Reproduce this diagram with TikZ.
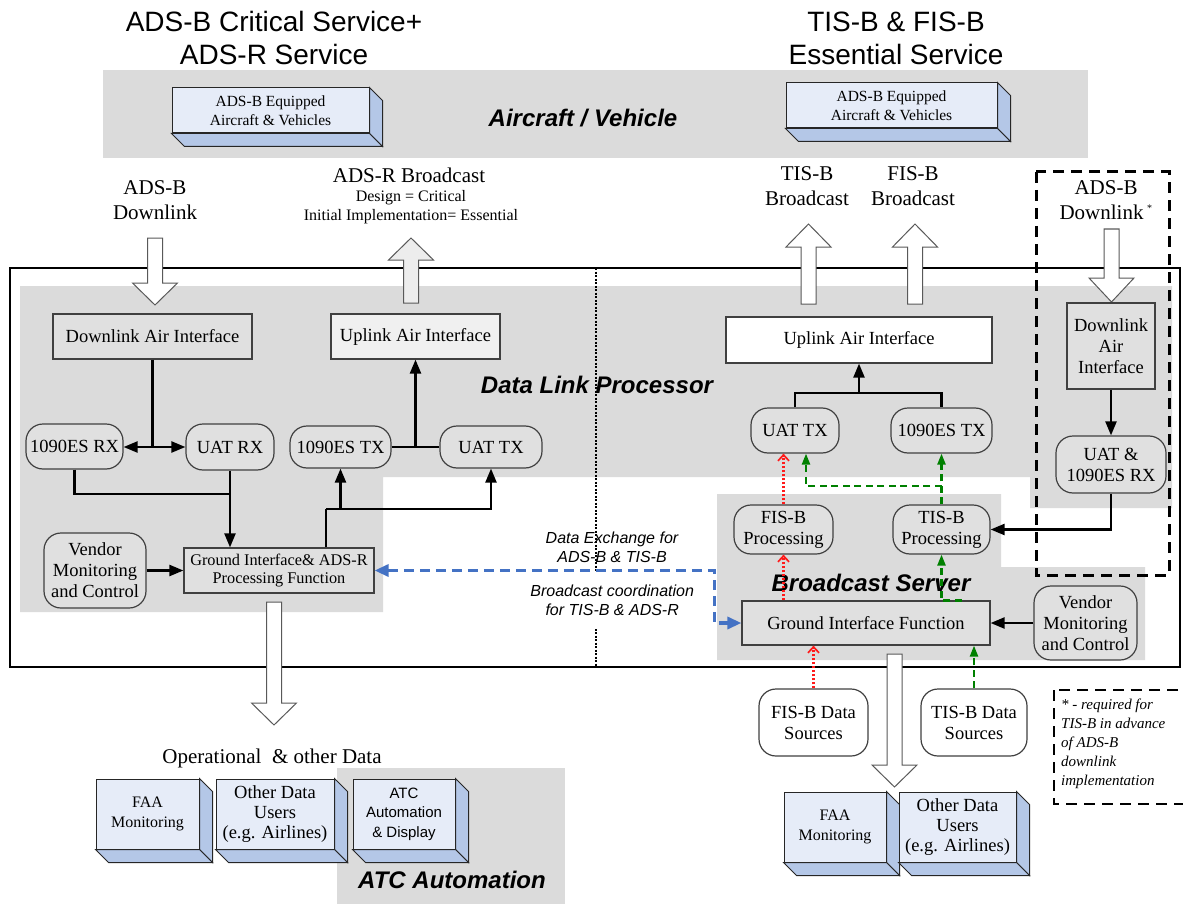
\documentclass[tikz,border=0pt]{standalone}
\usepackage{fontspec}
\setmainfont{Liberation Serif}
\newfontfamily\arialfont{Liberation Sans}
\usetikzlibrary{arrows.meta,calc}

\definecolor{bgGrey}{HTML}{DBDBDB}
\definecolor{nodeGrey}{HTML}{E0E0E0}
\definecolor{cubeFront}{HTML}{E6ECF8}
\definecolor{cubeSide}{HTML}{B4C7E7}
\definecolor{linkBlue}{HTML}{4472C4}
\definecolor{fisRed}{HTML}{FF1A1A}
\definecolor{tisGreen}{HTML}{008000}

\newcommand\fsz[2]{\fontsize{#1}{#2}\selectfont}

% depth faces of a 3-D box whose front face is node #1
\newcommand\cubedepth[2]{%
  \draw[cubeside] (#1.north east) -- ++(#2,#2) -- ($(#1.south east)+(#2,#2)$) -- (#1.south east) -- cycle;
  \draw[cubeside] (#1.south west) -- ++(#2,#2) -- ($(#1.south east)+(#2,#2)$) -- (#1.south east) -- cycle;}

% hollow block arrow: style, centre x, shaft end y, head base y, tip y
\newcommand\blockarrowpoly[5]{%
  \draw[#1] ({#2-7.5},#3) -- ({#2+7.5},#3) -- ({#2+7.5},#4) -- ({#2+22.5},#4)
    -- (#2,#5) -- ({#2-22.5},#4) -- ({#2-7.5},#4) -- cycle;}

\tikzset{
  sq/.style={draw=black!75, line width=1.2pt, fill=nodeGrey, inner sep=0pt,
             align=center, font=\fsz{18.5}{21}},
  rnd/.style={sq, rounded corners=17pt},
  cubefront/.style={draw=black!85, line width=1pt, fill=cubeFront, inner sep=0pt, align=center},
  cubeside/.style={draw=black!85, line width=1pt, fill=cubeSide},
  blockarrow/.style={draw=black!65, line width=1pt, fill=white},
  lbl/.style={inner sep=0pt, align=center, font=\fsz{21}{25}},
  region/.style={inner sep=0pt, font=\arialfont\bfseries\itshape\fsz{24}{28}},
  itlbl/.style={inner sep=0pt, align=center, font=\arialfont\itshape\fsz{16}{19}},
  plain/.style={line width=2.3pt},
  conn/.style={line width=2.3pt, -{Triangle[length=14pt,width=11pt]}},
  fisline/.style={fisRed, line width=2.4pt, dash pattern=on 2.5pt off 1.5pt,
                  -{Straight Barb[length=6pt,width=11pt,line width=1.7pt]}},
  tisline/.style={tisGreen, line width=2.3pt, dash pattern=on 7pt off 4.5pt,
                  -{Triangle[length=11pt,width=8pt]}},
  bluelink/.style={linkBlue, line width=3.3pt, dash pattern=on 10pt off 6pt,
                   {Triangle[length=14pt,width=12pt]}-{Triangle[length=14pt,width=12pt]}},
  heavydash/.style={line width=3pt, dash pattern=on 11pt off 7pt},
}

\begin{document}
\begin{tikzpicture}[x=1pt,y=-1pt]
\useasboundingbox (0,0) rectangle (1183,904);
\clip (0,0) rectangle (1183,904);

% ---------- service titles ----------
\node[inner sep=0pt, align=center, font=\arialfont\fsz{28}{33}] (titleA) at (274,38)
  {ADS-B Critical Service+\\ADS-R Service};
\node[inner sep=0pt, align=center, font=\arialfont\fsz{28}{33}] (titleB) at (896,38)
  {TIS-B \& FIS-B\\Essential Service};

% ---------- aircraft / vehicle band ----------
\fill[bgGrey] (103,70) rectangle (1088,158);
\node[cubefront, minimum width=197pt, minimum height=45pt, font=\fsz{15.5}{19}] (acA) at (270.5,110.5)
  {ADS-B Equipped\\Aircraft \& Vehicles};
\cubedepth{acA}{13}
\node[cubefront, minimum width=211pt, minimum height=45pt, font=\fsz{15.5}{19}] (acB) at (891.5,105.5)
  {ADS-B Equipped\\Aircraft \& Vehicles};
\cubedepth{acB}{13}
\node[region] (rAir) at (583,118) {Aircraft / Vehicle};

% ---------- link labels ----------
\node[lbl] (lDown) at (155,200) {ADS-B\\Downlink};
\node[lbl] (lAdsr) at (409,175) {ADS-R Broadcast};
\node[inner sep=0pt, align=center, font=\fsz{16}{19}] (lAdsrNote) at (411,207.5)
  {Design = Critical\\Initial Implementation= Essential};
\node[lbl] (lTis) at (807,186) {TIS-B\\Broadcast};
\node[lbl] (lFis) at (913,186) {FIS-B\\Broadcast};
\node[lbl] (lDown2) at (1106,200) {ADS-B\\Downlink\,\textsuperscript{\fsz{10}{10}*}};

% ---------- ground system frame and areas ----------
\draw[line width=2.3pt] (10,268) rectangle (1180,667);
\fill[bgGrey] (20,286) -- (1172,286) -- (1172,508) -- (1030,508) -- (1030,477)
  -- (383,477) -- (383,612) -- (20,612) -- cycle;
\fill[bgGrey] (717,494) -- (1001,494) -- (1001,567) -- (1145,567) -- (1145,660) -- (717,660) -- cycle;
\draw[line width=2.6pt, dash pattern=on 2pt off 1.5pt] (596,268) -- (596,667);

% ---------- block arrows ----------
\blockarrowpoly{blockarrow}{155}{238}{283}{305}
\blockarrowpoly{blockarrow, fill=black!7}{411}{303}{260}{238}
\blockarrowpoly{blockarrow}{808.5}{304}{247}{224}
\blockarrowpoly{blockarrow}{915}{304}{247}{224}
\blockarrowpoly{blockarrow}{1111.5}{229}{278}{302}
\blockarrowpoly{blockarrow}{274}{602}{703}{725}
\blockarrowpoly{blockarrow}{894.5}{654}{765}{787}

% ---------- data link processor (left) ----------
\node[sq, minimum width=199pt, minimum height=45pt] (dlai) at (152.5,336.5) {Downlink Air Interface};
\node[sq, minimum width=169pt, minimum height=45pt, fill=black!6] (ulai) at (415.5,336.5) {Uplink Air Interface};
\node[rnd, minimum width=97pt, minimum height=45pt] (rxES) at (74.5,446.5) {1090ES RX};
\node[rnd, minimum width=88pt, minimum height=46pt] (rxUAT) at (230,447) {UAT RX};
\node[rnd, minimum width=101pt, minimum height=42pt] (txES) at (340.5,447) {1090ES TX};
\node[rnd, minimum width=102pt, minimum height=42pt] (txUAT) at (491,447) {UAT TX};
\node[rnd, minimum width=102pt, minimum height=75pt] (vendA) at (95,570.5) {Vendor\\Monitoring\\and Control};
\node[sq, minimum width=190pt, minimum height=45pt, font=\fsz{16.3}{18.5}] (giA) at (279,570.5)
  {Ground Interface\& ADS-R\\Processing Function};

\coordinate (jRx) at (152.5,447);
\draw[plain] (dlai.south) -- (jRx);
\draw[conn] (jRx) -- (jRx -| rxES.east);
\draw[conn] (jRx) -- (jRx -| rxUAT.west);
\draw[plain] (rxES.south) |- (230,494);
\draw[conn] (rxUAT.south) -- (rxUAT.south |- giA.north);
\coordinate (jTx) at (326,509);
\draw[plain] (jTx |- giA.north) -- (jTx);
\draw[conn] (jTx) -| (txUAT.south);
\draw[conn] (txES.south |- jTx) -- (txES.south);
\draw[plain] (txES.east) -- (txUAT.west);
\draw[conn] (ulai.south |- txES.east) -- (ulai.south);
\draw[conn] (vendA.east) -- (giA.west);

% ---------- broadcast server (right) ----------
\node[sq, minimum width=266pt, minimum height=46pt, fill=white] (ulaiB) at (859,340) {Uplink Air Interface};
\node[rnd, minimum width=88pt, minimum height=45pt] (txUATb) at (795,430.5) {UAT TX};
\node[rnd, minimum width=101pt, minimum height=45pt] (txESb) at (941.5,430.5) {1090ES TX};
\node[rnd, minimum width=99pt, minimum height=49pt] (fisP) at (783.5,529.5) {FIS-B\\Processing};
\node[rnd, minimum width=97pt, minimum height=49pt] (tisP) at (941.5,529.5) {TIS-B\\Processing};
\node[sq, minimum width=248pt, minimum height=44pt] (giB) at (866,623) {Ground Interface Function};
\node[rnd, minimum width=103pt, minimum height=74pt] (vendB) at (1085.5,623) {Vendor\\Monitoring\\and Control};
\node[sq, minimum width=88pt, minimum height=86pt] (dlaiB) at (1111,346) {Downlink\\Air\\Interface};
\node[rnd, minimum width=110pt, minimum height=57pt] (rxB) at (1111,464.5) {UAT \&\\1090ES RX};
\node[rnd, minimum width=109pt, minimum height=67pt, fill=white] (fisDS) at (813.5,722.5) {FIS-B Data\\Sources};
\node[rnd, minimum width=106pt, minimum height=67pt, fill=white] (tisDS) at (974,722.5) {TIS-B Data\\Sources};

\coordinate (jUp) at (859,393);
\draw[plain] (txUATb.north) |- (jUp) -| (txESb.north);
\draw[conn] (jUp) -- (ulaiB.south);
\draw[conn] (dlaiB.south) -- (rxB.north);
\draw[conn] (rxB.south) |- (tisP.east);
\draw[conn] (vendB.west) -- (giB.east);

\node[region] (rBcast) at (871,583) {Broadcast Server};
\node[region] (rDlp) at (597,385) {Data Link Processor};

% FIS-B flow (red) and TIS-B flow (green)
\draw[fisline] (fisP.south |- giB.north) -- (fisP.south);
\draw[fisline] (fisP.north) -- (fisP.north |- txUATb.south);
\draw[fisline] (fisDS.north) -- (fisDS.north |- giB.south);
\coordinate (jTis) at (941.5,486);
\draw[tisline] (tisP.north) -- (txESb.south);
\draw[tisline] (jTis) -| ($(txUATb.south)+(11,0)$);
\draw[tisline] ($(giB.north east)+(-29,0)$) -- (tisP.south |- giB.north) -- (tisP.south);
\draw[tisline] (tisDS.north) -- (tisDS.north |- giB.south);

% data exchange between the two halves
\coordinate (kEx) at (714,600);
\draw[bluelink] (giA.east) -| (kEx) |- (giB.west);
\node[itlbl, fill=white, minimum width=202pt, minimum height=57pt, anchor=north west] (lCoord) at (511,572)
  {Broadcast coordination\\for TIS-B \& ADS-R};
\node[itlbl] (lExch) at (612,547) {Data Exchange for\\ADS-B \& TIS-B};

% optional downlink enclosure
\draw[heavydash] (1036,172) rectangle (1169,575);

% ---------- ground users ----------
\node[lbl] (lOps) at (272,758) {Operational \ \& other Data};
\fill[bgGrey] (337,768) rectangle (565,904);
\node[cubefront, minimum width=103pt, minimum height=70pt, font=\fsz{16}{20}] (faaA) at (147.5,814) {FAA\\Monitoring};
\cubedepth{faaA}{13}
\node[cubefront, minimum width=118pt, minimum height=70pt, font=\fsz{18.5}{20}] (oduA) at (275,814) {Other Data\\Users\\(e.g. Airlines)};
\cubedepth{oduA}{13}
\node[cubefront, minimum width=102pt, minimum height=70pt, font=\arialfont\fsz{15}{19.5}] (atc) at (404,814) {ATC\\Automation\\\& Display};
\cubedepth{atc}{13}
\node[region] (rAtc) at (452,880) {ATC Automation};

\node[cubefront, minimum width=102pt, minimum height=70pt, font=\fsz{16}{20}] (faaB) at (835,827) {FAA\\Monitoring};
\cubedepth{faaB}{13}
\node[cubefront, minimum width=117pt, minimum height=70pt, font=\fsz{18.5}{20}] (oduB) at (957.5,827) {Other Data\\Users\\(e.g. Airlines)};
\cubedepth{oduB}{13}

% ---------- footnote ----------
\draw[heavydash, line width=2.6pt] (1054,690) rectangle (1200,804);
\node[inner sep=0pt, align=left, anchor=north west, font=\itshape\fsz{15}{19}] (note) at (1061,699)
  {* - required for\\TIS-B in advance\\of ADS-B\\downlink\\implementation};
\end{tikzpicture}
\end{document}
